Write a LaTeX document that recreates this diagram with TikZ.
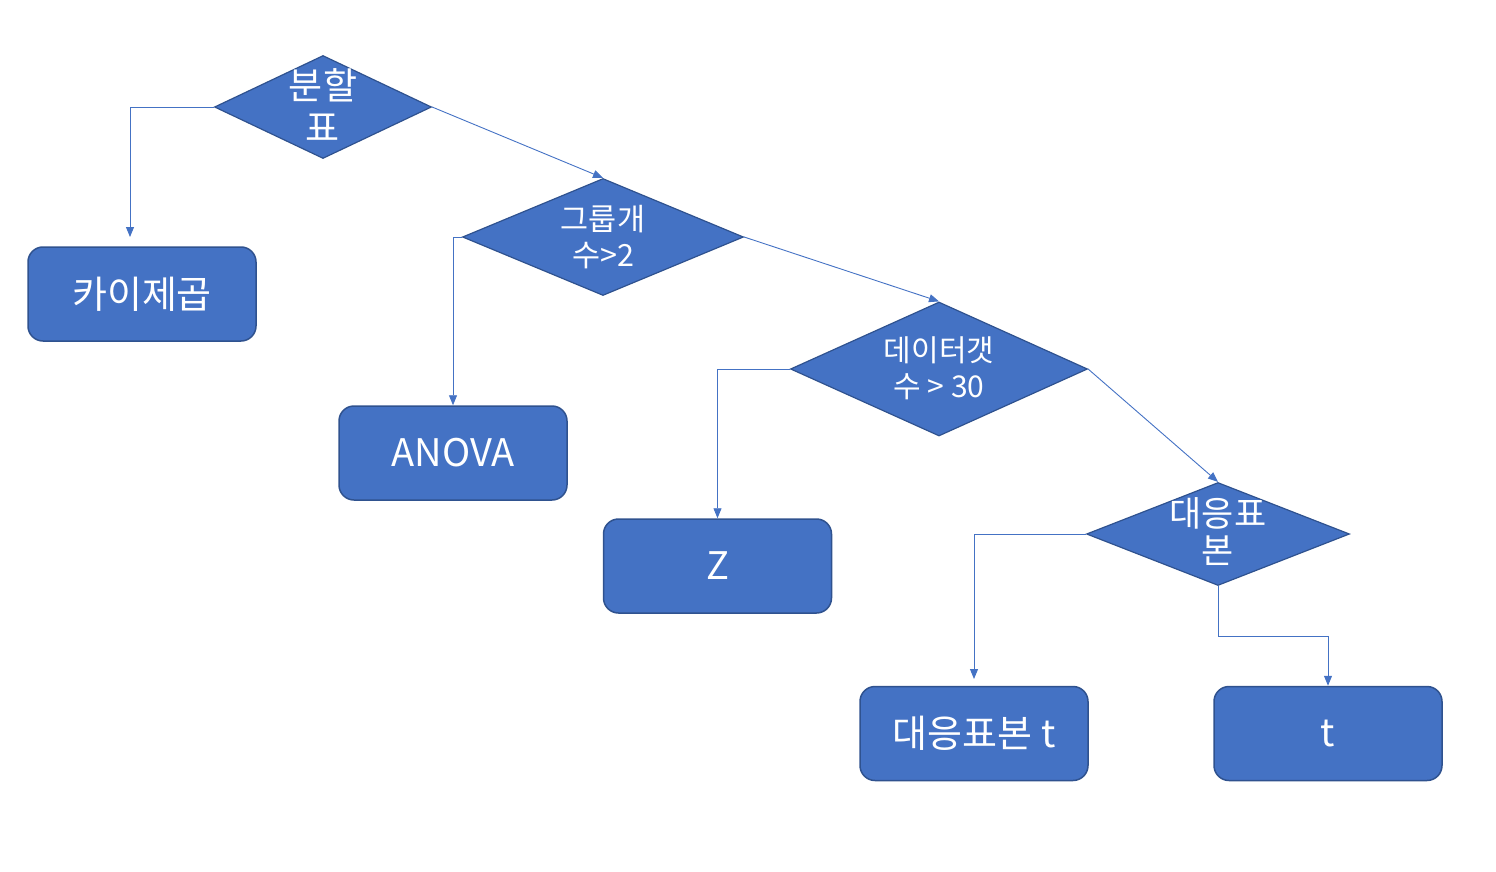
\documentclass[tikz,border=0pt]{standalone}
\usepackage{fontspec}
\setmainfont{Noto Sans CJK KR}
\usetikzlibrary{shapes.geometric,arrows.meta}
\definecolor{bfill}{HTML}{4472C4}
\definecolor{bdraw}{HTML}{2F528F}
\begin{document}
\begin{tikzpicture}[x=1pt,y=-1pt,
  dia/.style={diamond,draw=bdraw,fill=bfill,line width=1.2pt,inner sep=0pt},
  rbox/.style={draw=bdraw,fill=bfill,line width=1.5pt,rounded corners=15pt,minimum width=228pt,minimum height=94pt,inner sep=0pt,text=white,font=\fontsize{38}{44}\selectfont},
  dtext/.style={text=white,align=center,inner sep=0pt},
  conn/.style={draw=bfill,line width=0.9pt,-{Triangle[length=10pt,width=8pt]}}]
\useasboundingbox (0,0) rectangle (1496,872);
% diamonds
\node[dia,minimum width=217pt,minimum height=103pt] (d1) at (323,107) {};
\node[dia,minimum width=281pt,minimum height=117pt] (d2) at (603,237) {};
\node[dia,minimum width=297pt,minimum height=134pt] (d3) at (939,369) {};
\node[dia,minimum width=263pt,minimum height=103pt] (d4) at (1218,534) {};
\node[dtext,font=\fontsize{37}{42}\selectfont] (t1) at (323,105) {분할\\표};
\node[dtext,font=\fontsize{30.5}{36}\selectfont] (t2) at (603,237) {그룹개\\수>2};
\node[dtext,font=\fontsize{30}{36}\selectfont] (t3) at (939,368) {데이터갯\\수 > 30};
\node[dtext,font=\fontsize{35}{37}\selectfont] (t4) at (1218,532) {대응표\\본};
% boxes
\node[rbox] (b1) at (142,294) {카이제곱};
\node[rbox] (b2) at (453,453) {ANOVA};
\node[rbox] (b3) at (717.5,566) {Z};
\node[rbox] (b4) at (974,733.5) {대응표본 t};
\node[rbox] (b5) at (1328,733.5) {t};
% free ends
\coordinate (e1) at (130,237);
\coordinate (e2) at (974,679);
% connectors
\draw[conn] (d1.west) -| (e1);
\draw[conn] (d1.east) -- (d2.north);
\draw[conn] (d2.west) -| (b2.north);
\draw[conn] (d2.east) -- (d3.north);
\draw[conn] (d3.west) -| (b3.north);
\draw[conn] (d3.east) -- (d4.north);
\draw[conn] (d4.west) -| (e2);
\draw[conn] (d4.south) -- ++(0,50) -| (b5.north);
\end{tikzpicture}
\end{document}
